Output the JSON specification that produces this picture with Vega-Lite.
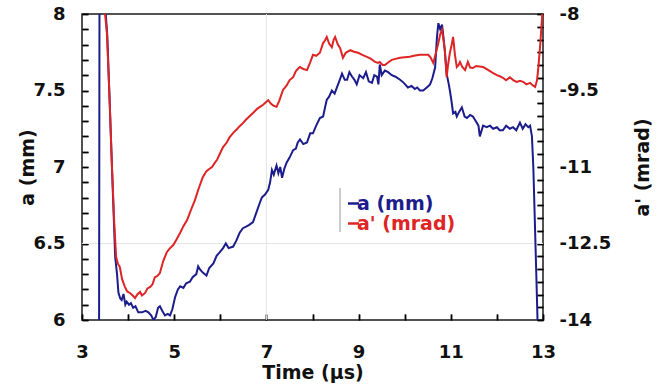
{
  "$schema": "https://vega.github.io/schema/vega-lite/v6.json",
  "width": 461,
  "height": 306,
  "autosize": "none",
  "padding": {"left": 82, "top": 14, "right": 124, "bottom": 67},
  "background": "white",
  "datasets": {
    "a": [
      {"t":3.37,"v":5.8},{"t":3.38,"v":8.2},{"t":3.47,"v":8.2},{"t":3.55,"v":7.85},{"t":3.65,"v":7.0},{"t":3.72,"v":6.41},{"t":3.76,"v":6.3},{"t":3.79,"v":6.18},{"t":3.83,"v":6.14},{"t":3.86,"v":6.13},{"t":3.9,"v":6.17},{"t":3.94,"v":6.1},{"t":3.97,"v":6.12},{"t":4.02,"v":6.1},{"t":4.06,"v":6.11},{"t":4.11,"v":6.08},{"t":4.16,"v":6.09},{"t":4.22,"v":6.05},{"t":4.3,"v":6.05},{"t":4.38,"v":6.06},{"t":4.44,"v":6.05},{"t":4.5,"v":6.03},{"t":4.55,"v":6.0},{"t":4.6,"v":6.02},{"t":4.65,"v":6.08},{"t":4.69,"v":6.09},{"t":4.74,"v":6.06},{"t":4.8,"v":6.03},{"t":4.86,"v":6.04},{"t":4.91,"v":6.03},{"t":4.96,"v":6.07},{"t":5.02,"v":6.15},{"t":5.08,"v":6.2},{"t":5.13,"v":6.22},{"t":5.2,"v":6.21},{"t":5.26,"v":6.24},{"t":5.34,"v":6.25},{"t":5.4,"v":6.28},{"t":5.48,"v":6.3},{"t":5.52,"v":6.35},{"t":5.56,"v":6.33},{"t":5.62,"v":6.31},{"t":5.66,"v":6.3},{"t":5.7,"v":6.29},{"t":5.76,"v":6.34},{"t":5.85,"v":6.37},{"t":5.92,"v":6.42},{"t":5.98,"v":6.44},{"t":6.06,"v":6.47},{"t":6.12,"v":6.5},{"t":6.18,"v":6.47},{"t":6.28,"v":6.48},{"t":6.35,"v":6.52},{"t":6.42,"v":6.57},{"t":6.49,"v":6.6},{"t":6.56,"v":6.61},{"t":6.62,"v":6.62},{"t":6.71,"v":6.64},{"t":6.78,"v":6.7},{"t":6.85,"v":6.76},{"t":6.9,"v":6.8},{"t":6.97,"v":6.82},{"t":7.04,"v":6.85},{"t":7.08,"v":6.9},{"t":7.12,"v":6.98},{"t":7.16,"v":6.95},{"t":7.22,"v":7.01},{"t":7.26,"v":6.96},{"t":7.3,"v":7.0},{"t":7.34,"v":6.93},{"t":7.39,"v":6.99},{"t":7.44,"v":7.03},{"t":7.5,"v":7.06},{"t":7.58,"v":7.11},{"t":7.64,"v":7.12},{"t":7.68,"v":7.16},{"t":7.73,"v":7.18},{"t":7.8,"v":7.15},{"t":7.88,"v":7.16},{"t":7.95,"v":7.22},{"t":8.01,"v":7.22},{"t":8.08,"v":7.27},{"t":8.16,"v":7.32},{"t":8.23,"v":7.33},{"t":8.28,"v":7.4},{"t":8.31,"v":7.44},{"t":8.36,"v":7.46},{"t":8.42,"v":7.5},{"t":8.48,"v":7.48},{"t":8.53,"v":7.52},{"t":8.58,"v":7.56},{"t":8.64,"v":7.61},{"t":8.7,"v":7.57},{"t":8.75,"v":7.57},{"t":8.8,"v":7.62},{"t":8.86,"v":7.59},{"t":8.91,"v":7.57},{"t":8.96,"v":7.54},{"t":9.02,"v":7.6},{"t":9.1,"v":7.58},{"t":9.16,"v":7.62},{"t":9.22,"v":7.56},{"t":9.29,"v":7.55},{"t":9.34,"v":7.6},{"t":9.4,"v":7.59},{"t":9.43,"v":7.54},{"t":9.46,"v":7.67},{"t":9.5,"v":7.6},{"t":9.57,"v":7.63},{"t":9.64,"v":7.62},{"t":9.72,"v":7.6},{"t":9.8,"v":7.59},{"t":9.9,"v":7.57},{"t":9.98,"v":7.55},{"t":10.07,"v":7.52},{"t":10.15,"v":7.53},{"t":10.22,"v":7.51},{"t":10.27,"v":7.52},{"t":10.33,"v":7.5},{"t":10.4,"v":7.5},{"t":10.48,"v":7.52},{"t":10.55,"v":7.54},{"t":10.6,"v":7.58},{"t":10.66,"v":7.65},{"t":10.7,"v":7.85},{"t":10.73,"v":7.94},{"t":10.77,"v":7.9},{"t":10.81,"v":7.93},{"t":10.84,"v":7.85},{"t":10.87,"v":7.76},{"t":10.91,"v":7.61},{"t":10.95,"v":7.55},{"t":10.98,"v":7.5},{"t":11.02,"v":7.42},{"t":11.05,"v":7.35},{"t":11.1,"v":7.36},{"t":11.13,"v":7.33},{"t":11.18,"v":7.36},{"t":11.24,"v":7.39},{"t":11.3,"v":7.33},{"t":11.35,"v":7.32},{"t":11.42,"v":7.34},{"t":11.48,"v":7.33},{"t":11.54,"v":7.3},{"t":11.6,"v":7.27},{"t":11.63,"v":7.2},{"t":11.67,"v":7.24},{"t":11.7,"v":7.27},{"t":11.78,"v":7.26},{"t":11.85,"v":7.27},{"t":11.92,"v":7.25},{"t":12.0,"v":7.26},{"t":12.06,"v":7.24},{"t":12.13,"v":7.24},{"t":12.2,"v":7.27},{"t":12.28,"v":7.25},{"t":12.35,"v":7.26},{"t":12.42,"v":7.24},{"t":12.5,"v":7.29},{"t":12.56,"v":7.25},{"t":12.62,"v":7.28},{"t":12.68,"v":7.26},{"t":12.72,"v":7.27},{"t":12.76,"v":7.2},{"t":12.79,"v":7.0},{"t":12.83,"v":6.57},{"t":12.86,"v":6.24},{"t":12.89,"v":5.9}
    ],
    "ap": [
      {"t":3.48,"v":-7.7},{"t":3.5,"v":-8.0},{"t":3.54,"v":-8.37},{"t":3.6,"v":-9.7},{"t":3.65,"v":-11.0},{"t":3.7,"v":-12.1},{"t":3.74,"v":-12.76},{"t":3.78,"v":-12.9},{"t":3.82,"v":-12.96},{"t":3.87,"v":-13.2},{"t":3.93,"v":-13.35},{"t":3.98,"v":-13.44},{"t":4.04,"v":-13.47},{"t":4.1,"v":-13.52},{"t":4.15,"v":-13.57},{"t":4.2,"v":-13.5},{"t":4.26,"v":-13.45},{"t":4.3,"v":-13.52},{"t":4.37,"v":-13.47},{"t":4.42,"v":-13.38},{"t":4.48,"v":-13.35},{"t":4.53,"v":-13.3},{"t":4.58,"v":-13.16},{"t":4.63,"v":-13.14},{"t":4.69,"v":-13.08},{"t":4.76,"v":-12.85},{"t":4.84,"v":-12.67},{"t":4.9,"v":-12.6},{"t":4.98,"v":-12.53},{"t":5.05,"v":-12.42},{"t":5.13,"v":-12.29},{"t":5.2,"v":-12.16},{"t":5.28,"v":-12.04},{"t":5.36,"v":-11.85},{"t":5.45,"v":-11.65},{"t":5.52,"v":-11.45},{"t":5.62,"v":-11.2},{"t":5.7,"v":-11.08},{"t":5.76,"v":-11.04},{"t":5.82,"v":-11.0},{"t":5.88,"v":-10.92},{"t":5.93,"v":-10.86},{"t":6.0,"v":-10.72},{"t":6.06,"v":-10.61},{"t":6.14,"v":-10.52},{"t":6.2,"v":-10.42},{"t":6.28,"v":-10.33},{"t":6.36,"v":-10.26},{"t":6.42,"v":-10.2},{"t":6.49,"v":-10.14},{"t":6.56,"v":-10.07},{"t":6.64,"v":-10.0},{"t":6.71,"v":-9.94},{"t":6.8,"v":-9.86},{"t":6.86,"v":-9.82},{"t":6.93,"v":-9.78},{"t":7.0,"v":-9.72},{"t":7.04,"v":-9.69},{"t":7.1,"v":-9.76},{"t":7.16,"v":-9.8},{"t":7.22,"v":-9.82},{"t":7.28,"v":-9.7},{"t":7.36,"v":-9.49},{"t":7.44,"v":-9.4},{"t":7.5,"v":-9.3},{"t":7.58,"v":-9.24},{"t":7.64,"v":-9.12},{"t":7.7,"v":-9.06},{"t":7.73,"v":-9.04},{"t":7.8,"v":-9.08},{"t":7.88,"v":-9.1},{"t":7.95,"v":-8.95},{"t":8.01,"v":-8.8},{"t":8.08,"v":-8.82},{"t":8.16,"v":-8.76},{"t":8.23,"v":-8.57},{"t":8.27,"v":-8.52},{"t":8.31,"v":-8.45},{"t":8.36,"v":-8.58},{"t":8.42,"v":-8.65},{"t":8.46,"v":-8.5},{"t":8.49,"v":-8.45},{"t":8.55,"v":-8.6},{"t":8.6,"v":-8.67},{"t":8.66,"v":-8.86},{"t":8.72,"v":-8.76},{"t":8.82,"v":-8.71},{"t":8.9,"v":-8.74},{"t":8.99,"v":-8.76},{"t":9.08,"v":-8.8},{"t":9.18,"v":-8.84},{"t":9.27,"v":-8.88},{"t":9.36,"v":-8.94},{"t":9.42,"v":-8.96},{"t":9.46,"v":-8.94},{"t":9.52,"v":-9.0},{"t":9.57,"v":-9.0},{"t":9.64,"v":-8.95},{"t":9.72,"v":-8.9},{"t":9.8,"v":-8.88},{"t":9.9,"v":-8.86},{"t":10.0,"v":-8.85},{"t":10.11,"v":-8.84},{"t":10.2,"v":-8.82},{"t":10.33,"v":-8.8},{"t":10.42,"v":-8.8},{"t":10.51,"v":-8.8},{"t":10.56,"v":-8.85},{"t":10.62,"v":-8.96},{"t":10.68,"v":-8.75},{"t":10.73,"v":-8.57},{"t":10.77,"v":-8.4},{"t":10.81,"v":-8.31},{"t":10.84,"v":-8.5},{"t":10.87,"v":-8.71},{"t":10.91,"v":-9.24},{"t":10.94,"v":-9.0},{"t":10.98,"v":-8.76},{"t":11.02,"v":-8.6},{"t":11.05,"v":-8.45},{"t":11.09,"v":-8.8},{"t":11.13,"v":-9.04},{"t":11.17,"v":-9.0},{"t":11.2,"v":-8.94},{"t":11.25,"v":-9.04},{"t":11.31,"v":-9.1},{"t":11.37,"v":-8.94},{"t":11.42,"v":-9.05},{"t":11.48,"v":-9.06},{"t":11.55,"v":-9.02},{"t":11.62,"v":-9.03},{"t":11.7,"v":-9.04},{"t":11.78,"v":-9.08},{"t":11.85,"v":-9.12},{"t":11.92,"v":-9.16},{"t":12.0,"v":-9.2},{"t":12.06,"v":-9.22},{"t":12.13,"v":-9.25},{"t":12.2,"v":-9.3},{"t":12.28,"v":-9.24},{"t":12.36,"v":-9.3},{"t":12.43,"v":-9.33},{"t":12.5,"v":-9.31},{"t":12.57,"v":-9.33},{"t":12.64,"v":-9.38},{"t":12.72,"v":-9.35},{"t":12.78,"v":-9.4},{"t":12.83,"v":-9.43},{"t":12.87,"v":-9.3},{"t":12.9,"v":-9.04},{"t":12.94,"v":-8.6},{"t":12.98,"v":-8.06},{"t":13.0,"v":-7.7}
    ]
  },
  "config": {
    "font": "DejaVu Sans",
    "view": {"stroke": "#1a1a1a", "strokeWidth": 1.5}
  },
  "layer": [
    {
      "data": {"values": [{}]},
      "mark": {"type": "rule", "color": "#e4e4e4", "strokeWidth": 1},
      "encoding": {
        "x": {"datum": 7, "type": "quantitative"}
      }
    },
    {
      "data": {"values": [{}]},
      "mark": {"type": "rule", "color": "#e4e4e4", "strokeWidth": 1},
      "encoding": {
        "y": {"datum": 6.5, "type": "quantitative", "scale": {"domain": [6, 8], "nice": false, "zero": false}, "axis": null}
      }
    },
    {
      "data": {"name": "a"},
      "mark": {"type": "line", "clip": true, "strokeWidth": 2},
      "encoding": {
        "x": {
          "field": "t", "type": "quantitative",
          "scale": {"domain": [3, 13], "nice": false, "zero": false},
          "axis": {
            "title": "Time (µs)", "domain": false, "ticks": true,
            "tickColor": "black", "tickSize": -6, "tickWidth": 1.5,
            "grid": true, "gridColor": "#1a1a1a", "gridWidth": 1.5, "gridOpacity": 1, "gridDash": [0, 300, 6, 1000],
            "values": [3,3.5,4,4.5,5,5.5,6,6.5,7,7.5,8,8.5,9,9.5,10,10.5,11,11.5,12,12.5,13],
            "labelExpr": "(abs((datum.value - 3) / 2 - round((datum.value - 3) / 2)) < 0.001) ? toString(datum.value) : ''",
            "labelOverlap": false, "labelFlush": false,
            "labelFont": "DejaVu Sans", "labelFontWeight": "bold", "labelFontSize": 18, "labelColor": "#111111",
            "labelPadding": 29,
            "titleFont": "DejaVu Sans", "titleFontWeight": "bold", "titleFontSize": 19, "titleColor": "#111111",
            "titleY": 52, "titleBaseline": "middle"
          }
        },
        "y": {
          "field": "v", "type": "quantitative",
          "scale": {"domain": [6, 8], "nice": false, "zero": false},
          "axis": {
            "orient": "left", "title": "a (mm)", "domain": false, "ticks": true,
            "tickColor": "black", "tickSize": -6, "tickWidth": 1.5,
            "grid": true, "gridColor": "#1a1a1a", "gridWidth": 1.5, "gridOpacity": 1, "gridDash": [6, 1000],
            "values": [6,6.1,6.2,6.3,6.4,6.5,6.6,6.7,6.8,6.9,7,7.1,7.2,7.3,7.4,7.5,7.6,7.7,7.8,7.9,8],
            "labelExpr": "(abs(datum.value * 2 - round(datum.value * 2)) < 0.001) ? toString(datum.value) : ''",
            "labelOverlap": false, "labelFlush": false,
            "labelFont": "DejaVu Sans", "labelFontWeight": "bold", "labelFontSize": 18, "labelColor": "#111111",
            "labelPadding": 23,
            "titleFont": "DejaVu Sans", "titleFontWeight": "bold", "titleFontSize": 19, "titleColor": "#111111",
            "titleX": -55, "titleBaseline": "middle", "titleAngle": -90
          }
        },
        "color": {
          "datum": "a (mm)", "type": "nominal",
          "scale": {"domain": ["a (mm)"], "range": ["#1c1c8c"]},
          "legend": {
            "orient": "none", "legendX": 262, "legendY": 180, "title": null,
            "symbolType": "stroke", "symbolStrokeWidth": 2.5, "symbolSize": 121,
            "labelFont": "DejaVu Sans", "labelFontSize": 19, "labelFontWeight": "bold",
            "labelColor": "#1c1c8c", "labelOffset": -6, "padding": 0
          }
        }
      }
    },
    {
      "data": {"name": "ap"},
      "mark": {"type": "line", "clip": true, "strokeWidth": 2},
      "encoding": {
        "x": {"field": "t", "type": "quantitative"},
        "y": {
          "field": "v", "type": "quantitative",
          "scale": {"domain": [-14, -8], "nice": false, "zero": false},
          "axis": {
            "orient": "right", "title": "a' (mrad)", "domain": false, "ticks": true,
            "tickColor": "black", "tickSize": -6, "tickWidth": 1.5,
            "grid": true, "gridColor": "#1a1a1a", "gridWidth": 1.5, "gridOpacity": 1, "gridDash": [6, 1000],
            "values": [-14,-13.75,-13.5,-13.25,-13,-12.75,-12.5,-12.25,-12,-11.75,-11.5,-11.25,-11,-10.75,-10.5,-10.25,-10,-9.75,-9.5,-9.25,-9,-8.75,-8.5,-8.25,-8],
            "labelExpr": "(abs((datum.value + 8) / 1.5 - round((datum.value + 8) / 1.5)) < 0.001) ? toString(datum.value) : ''",
            "labelOverlap": false, "labelFlush": false,
            "labelFont": "DejaVu Sans", "labelFontWeight": "bold", "labelFontSize": 18, "labelColor": "#111111",
            "labelPadding": 22,
            "titleFont": "DejaVu Sans", "titleFontWeight": "bold", "titleFontSize": 19, "titleColor": "#111111",
            "titleX": 99, "titleBaseline": "middle", "titleAngle": -90
          }
        },
        "color": {
          "datum": "a' (mrad)", "type": "nominal",
          "scale": {"domain": ["a' (mrad)"], "range": ["#de2424"]},
          "legend": {
            "orient": "none", "legendX": 262, "legendY": 200, "title": null,
            "symbolType": "stroke", "symbolStrokeWidth": 2.5, "symbolSize": 121,
            "labelFont": "DejaVu Sans", "labelFontSize": 19, "labelFontWeight": "bold",
            "labelColor": "#de2424", "labelOffset": -6, "padding": 0
          }
        }
      }
    },
    {
      "data": {"values": [{}]},
      "mark": {"type": "rule", "color": "#999999", "strokeWidth": 1},
      "encoding": {
        "x": {"datum": 8.597, "type": "quantitative"},
        "y": {"datum": 6.863, "type": "quantitative", "scale": {"domain": [6, 8], "nice": false, "zero": false}, "axis": null},
        "y2": {"datum": 6.575}
      }
    }
  ],
  "resolve": {"scale": {"y": "independent", "color": "independent"}, "axis": {"y": "independent"}, "legend": {"color": "independent"}}
}
